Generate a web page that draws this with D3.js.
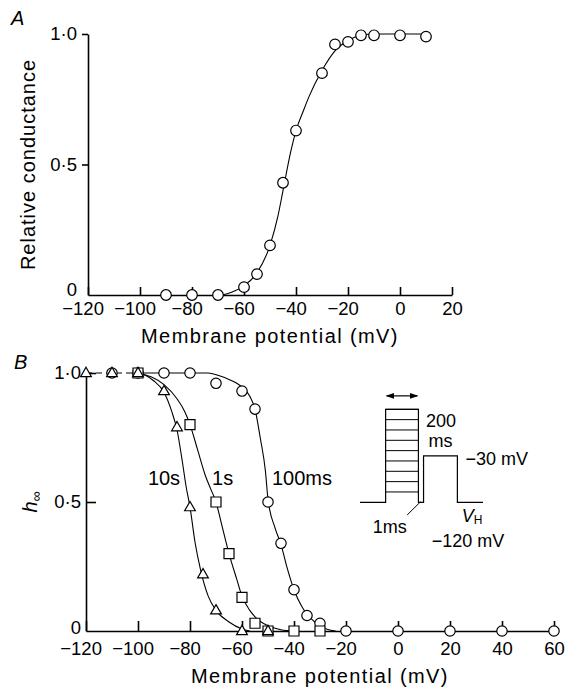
<!DOCTYPE html>
<html lang="en">
<head>
<meta charset="UTF-8">
<title>Relative conductance and steady-state inactivation</title>
<script src="https://d3js.org/d3.v7.min.js"></script>
<style>
  body { margin: 0; background: #fff; }
  svg { display: block; font-family: "Liberation Sans", Arial, sans-serif; }
  .tick text { font-size: 18.5px; fill: #000; font-family: "Liberation Sans", Arial, sans-serif; }
  .domain, .tick line { stroke: #000; stroke-width: 1.6; }
  .fit { fill: none; stroke: #000; stroke-width: 1.1; }
  .mark { fill: #fff; stroke: #000; stroke-width: 1.2; }
  .lbl { font-size: 20px; fill: #000; }
</style>
</head>
<body>
<svg id="chart" width="566" height="687"></svg>
<script>
// ---- Panel A: relative conductance
const actV = [-90, -80, -70, -60, -55, -50, -45, -40, -30, -25, -20, -15, -10, 0, 10];
const actG = [0, 0, 0, 0.03, 0.08, 0.19, 0.43, 0.63, 0.85, 0.96, 0.97, 0.995, 0.995, 0.995, 0.99];
// fitted curve
const actFitV = [-68.5, -65, -60, -55, -50, -47, -45, -42, -40, -37, -35, -30, -25, -20, -15, -10, 0, 10];
const actFitG = [0, 0.01, 0.035, 0.085, 0.19, 0.3, 0.4, 0.55, 0.63, 0.71, 0.76, 0.86, 0.935, 0.975, 0.995, 1, 1, 1];

// ---- Panel B: h-infinity for three prepulse durations
const h100msV = [-110, -100, -90, -80, -70, -60, -55, -50, -45, -40, -35, -30, -20, 0, 20, 40, 60];
const h100msH = [1, 1, 1, 1, 0.96, 0.93, 0.86, 0.5, 0.34, 0.16, 0.06, 0.03, 0, 0, 0, 0, 0];
const h1sV = [-100, -80, -70, -65, -60, -55, -50, -40, -30];
const h1sH = [1, 0.8, 0.5, 0.3, 0.13, 0.03, 0, 0, 0];
const h10sV = [-120, -110, -100, -90, -85, -80, -75, -70, -60, -50];
const h10sH = [1, 1, 1, 0.93, 0.79, 0.48, 0.22, 0.08, 0, 0];

const fit100msV = [-100, -73, -69, -65, -62, -60, -57, -55, -53, -51, -50, -47.3, -45, -42.5, -40, -37, -35, -32, -30, -27, -24];
const fit100msH = [1, 1, 0.99, 0.975, 0.96, 0.945, 0.91, 0.86, 0.75, 0.62, 0.51, 0.4, 0.335, 0.24, 0.16, 0.095, 0.065, 0.035, 0.02, 0.006, 0];
const fit1sV = [-100, -95, -90, -85, -82, -80, -77, -74, -72, -70, -68, -65, -62, -60, -57, -55, -50, -45, -40];
const fit1sH = [1, 0.985, 0.955, 0.9, 0.85, 0.8, 0.7, 0.6, 0.55, 0.5, 0.42, 0.3, 0.2, 0.135, 0.08, 0.055, 0.02, 0.005, 0];
const fit10sV = [-100, -97, -94, -90, -87, -85, -83, -81.5, -80, -78, -76, -73, -70, -65, -60, -57];
const fit10sH = [1, 0.99, 0.97, 0.925, 0.85, 0.78, 0.66, 0.56, 0.48, 0.34, 0.24, 0.135, 0.08, 0.035, 0.008, 0];

const curveLabels = ["10s", "1s", "100ms"];
const curveLabelV = [-96.2, -71.5, -48.5];
const curveLabelY = 0.566;

const xTicksA = [-120, -100, -80, -60, -40, -20, 0, 20];
const xTicksB = [-120, -100, -80, -60, -40, -20, 0, 20, 40, 60];
const yTicks = [0, 0.5, 1];
const yTickText = ["0", "0\u00b75", "1\u00b70"];

const svg = d3.select("#chart");

const xA = d3.scaleLinear().domain([-120, 20]).range([88, 452]);
const yA = d3.scaleLinear().domain([0, 1]).range([295, 34]);
const xB = d3.scaleLinear().domain([-120, 60]).range([86, 554]);
const yB = d3.scaleLinear().domain([0, 1]).range([631, 373]);

// digits centred on the tick, minus sign hanging to the left, as in the print
function hangMinus(g) {
  g.selectAll(".tick text").each(function(d) {
    if (d >= 0) return;
    const t = d3.select(this);
    t.text(Math.abs(d));
    const w = this.getComputedTextLength();
    t.attr("text-anchor", "end").attr("x", w / 2).text("\u2212" + Math.abs(d));
  });
}

function zip(a, b) { return a.map((v, i) => [v, b[i]]); }

// ---------- Panel A ----------
const gA = svg.append("g");
gA.append("g")
  .attr("transform", `translate(0,${yA(0)})`)
  .call(d3.axisBottom(xA).tickValues(xTicksA).tickSizeInner(-8).tickSizeOuter(0).tickPadding(7))
  .call(hangMinus);
gA.append("g")
  .attr("transform", `translate(${xA(-120)},0)`)
  .call(d3.axisLeft(yA).tickValues(yTicks).tickSizeInner(6).tickSizeOuter(0).tickPadding(5)
    .tickFormat((d, i) => yTickText[i]))
  .call(g => g.selectAll(".tick").filter(d => d === 0).select("line").remove())
  .call(g => g.selectAll(".tick").filter(d => d === 0).select("text").attr("y", -5.5));

const lineA = d3.line().x(d => xA(d[0])).y(d => yA(d[1])).curve(d3.curveMonotoneX);
gA.append("path").attr("class", "fit").attr("d", lineA(zip(actFitV, actFitG)));
gA.selectAll("circle.a")
  .data(zip(actV, actG))
  .enter().append("circle")
  .attr("class", "mark")
  .attr("cx", d => xA(d[0])).attr("cy", d => yA(d[1])).attr("r", 5.3);

gA.append("text").attr("class", "lbl")
  .attr("x", 11).attr("y", 25).attr("font-style", "italic").attr("font-size", 21).text("A");
gA.append("text").attr("class", "lbl")
  .attr("x", (xA.range()[0] + xA.range()[1]) / 2).attr("y", 343)
  .attr("text-anchor", "middle").attr("letter-spacing", 1.4)
  .text("Membrane potential (mV)");
gA.append("text").attr("class", "lbl")
  .attr("transform", `translate(35,${(yA(0) + yA(1)) / 2}) rotate(-90)`)
  .attr("text-anchor", "middle").attr("letter-spacing", 1)
  .text("Relative conductance");

// ---------- Panel B ----------
const gB = svg.append("g");
gB.append("g")
  .attr("transform", `translate(0,${yB(0)})`)
  .call(d3.axisBottom(xB).tickValues(xTicksB).tickSizeInner(-10).tickSizeOuter(0).tickPadding(11))
  .call(hangMinus);
gB.append("g")
  .attr("transform", `translate(${xB(-120)},0)`)
  .call(d3.axisLeft(yB).tickValues(yTicks).tickSizeInner(-10).tickSizeOuter(0).tickPadding(5)
    .tickFormat((d, i) => yTickText[i]))
  .call(g => g.selectAll(".tick").filter(d => d === 0).select("line").remove())
  .call(g => g.selectAll(".tick").filter(d => d === 0).select("text").attr("y", -3));

// dashed top line between -120 and -100
gB.append("line")
  .attr("x1", xB(-120)).attr("x2", xB(-100)).attr("y1", yB(1)).attr("y2", yB(1))
  .attr("stroke", "#000").attr("stroke-width", 1.1).attr("stroke-dasharray", "6,4");

const lineB = d3.line().x(d => xB(d[0])).y(d => yB(d[1])).curve(d3.curveMonotoneX);
[[fit100msV, fit100msH], [fit1sV, fit1sH], [fit10sV, fit10sH]].forEach(s => {
  gB.append("path").attr("class", "fit").attr("d", lineB(zip(s[0], s[1])));
});

gB.selectAll("circle.b")
  .data(zip(h100msV, h100msH))
  .enter().append("circle")
  .attr("class", "mark")
  .attr("cx", d => xB(d[0])).attr("cy", d => yB(d[1])).attr("r", 5.2);
gB.selectAll("path.sq")
  .data(zip(h1sV, h1sH))
  .enter().append("path")
  .attr("class", "mark")
  .attr("d", d3.symbol(d3.symbolSquare, 100))
  .attr("transform", d => `translate(${xB(d[0])},${yB(d[1])})`);
gB.selectAll("path.tri")
  .data(zip(h10sV, h10sH))
  .enter().append("path")
  .attr("class", "mark")
  .attr("d", d3.symbol(d3.symbolTriangle, 50))
  .attr("transform", d => `translate(${xB(d[0])},${yB(d[1]) + 0.5})`);

gB.selectAll("text.cl")
  .data(curveLabels)
  .enter().append("text")
  .attr("class", "lbl")
  .attr("x", (d, i) => xB(curveLabelV[i]))
  .attr("y", yB(curveLabelY))
  .text(d => d);

gB.append("text").attr("class", "lbl")
  .attr("x", 14).attr("y", 369).attr("font-style", "italic").attr("font-size", 21).text("B");
gB.append("text").attr("class", "lbl")
  .attr("x", (xB.range()[0] + xB.range()[1]) / 2).attr("y", 683)
  .attr("text-anchor", "middle").attr("letter-spacing", 1.4)
  .text("Membrane potential (mV)");
const hLab = gB.append("text").attr("class", "lbl")
  .attr("transform", `translate(37,${yB(0.5)}) rotate(-90)`)
  .attr("text-anchor", "middle");
hLab.append("tspan").attr("font-style", "italic").text("h");
hLab.append("tspan").attr("font-size", 14).attr("dy", 4).text("\u221e");

// ---------- inset: pulse protocol ----------
const stepLevels = [1, 2, 3, 4, 5, 6, 7, 8, 9];
const protoT = [0, 25, 57, 62, 95, 120];   // schematic time marks
const testLevel = 4.5;
const arrowLevel = 10.3;
const tI = d3.scaleLinear().domain([0, 120]).range([360, 483]);
const vI = d3.scaleLinear().domain([0, 9]).range([502.3, 409.3]);

const gI = svg.append("g").attr("fill", "none").attr("stroke", "#000").attr("stroke-width", 1.2);
const defs = svg.append("defs");
defs.append("marker").attr("id", "ah").attr("viewBox", "0 0 10 10")
  .attr("refX", 9).attr("refY", 5).attr("markerWidth", 7).attr("markerHeight", 7)
  .attr("orient", "auto-start-reverse")
  .append("path").attr("d", "M0,1.5 L10,5 L0,8.5 Z").attr("fill", "#000");

// baseline with ladder and test pulse
gI.append("path").attr("d", d3.line()([
  [tI(protoT[0]), vI(0)], [tI(protoT[1]), vI(0)], [tI(protoT[1]), vI(9)],
  [tI(protoT[2]), vI(9)], [tI(protoT[2]), vI(0)], [tI(protoT[3]), vI(0)],
  [tI(protoT[3]), vI(testLevel)], [tI(protoT[4]), vI(testLevel)],
  [tI(protoT[4]), vI(0)], [tI(protoT[5]), vI(0)]
]));
gI.selectAll("line.step")
  .data(stepLevels)
  .enter().append("line")
  .attr("x1", tI(protoT[1])).attr("x2", tI(protoT[2]))
  .attr("y1", d => vI(d)).attr("y2", d => vI(d))
  .attr("stroke-width", 1);
gI.append("line")
  .attr("x1", tI(protoT[1]) + 1).attr("x2", tI(protoT[2]) - 1)
  .attr("y1", vI(arrowLevel)).attr("y2", vI(arrowLevel))
  .attr("marker-start", "url(#ah)").attr("marker-end", "url(#ah)");
// 1 ms pointer
gI.append("line")
  .attr("x1", tI(46)).attr("y1", vI(-1.23))
  .attr("x2", tI(59)).attr("y2", vI(0.05))
  .attr("stroke-width", 1);

const gIT = svg.append("g").attr("font-size", 18).attr("fill", "#000");
gIT.append("text").attr("x", tI(79)).attr("y", vI(7.3)).attr("text-anchor", "middle").text("200");
gIT.append("text").attr("x", tI(78.5)).attr("y", vI(5.4)).attr("text-anchor", "middle").text("ms");
gIT.append("text").attr("x", tI(103)).attr("y", vI(3.6)).text("\u221230 mV");
gIT.append("text").attr("x", tI(12.5)).attr("y", vI(-3)).text("1ms");
const vh = gIT.append("text").attr("x", tI(99.3)).attr("y", vI(-1.9));
vh.append("tspan").attr("font-style", "italic").text("V");
vh.append("tspan").attr("font-size", 12).attr("dy", 2).text("H");
gIT.append("text").attr("x", tI(70)).attr("y", vI(-4.3)).text("\u2212120 mV");
</script>
</body>
</html>
